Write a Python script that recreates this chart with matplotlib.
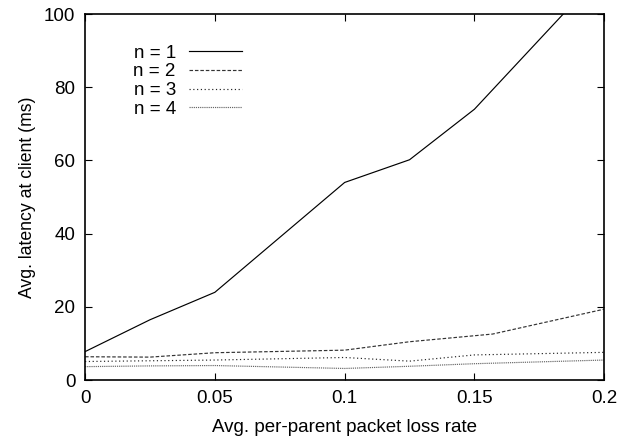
import matplotlib
matplotlib.use("Agg")
import matplotlib.pyplot as plt

plt.rcParams['font.family'] = ['Liberation Sans', 'DejaVu Sans']

# avg. per-parent packet loss rate
loss = [0, 0.025, 0.05, 0.1, 0.125, 0.15, 0.2]
loss_n2 = [0, 0.025, 0.05, 0.1, 0.125, 0.157, 0.2]

lat_n1 = [7.8, 16.5, 24.0, 54.0, 60.2, 74.0, 112.0]
lat_n2 = [6.4, 6.3, 7.5, 8.2, 10.5, 12.6, 19.4]
lat_n3 = [5.1, 5.3, 5.5, 6.2, 5.2, 6.9, 7.6]
lat_n4 = [3.7, 3.9, 4.0, 3.2, 3.8, 4.5, 5.5]

labels = ["n = 1", "n = 2", "n = 3", "n = 4"]
xticks = [0, 0.05, 0.1, 0.15, 0.2]
xticklabels = ["0", "0.05", "0.1", "0.15", "0.2"]

fs = 13.5

fig = plt.figure(figsize=(6.21, 4.38), dpi=100)
ax = fig.add_axes([0.137, 0.132, 0.836, 0.836])

ax.plot(loss, lat_n1, color="black", lw=0.85, label=labels[0])
ax.plot(loss_n2, lat_n2, color="#333333", lw=0.85, dashes=(3, 1.6), label=labels[1])
ax.plot(loss, lat_n3, color="#222222", lw=0.85, dashes=(1, 2.2), label=labels[2])
ax.plot(loss, lat_n4, color="#666666", lw=0.85, dashes=(1, 0.8), label=labels[3])

ax.set_xlim(0, 0.2)
ax.set_ylim(0, 100)
ax.set_xticks(xticks)
ax.set_xticklabels(xticklabels)
ax.set_yticks([0, 20, 40, 60, 80, 100])
ax.tick_params(direction="in", top=True, right=True, length=5, width=0.8,
               labelsize=fs, pad=7)
for s in ax.spines.values():
    s.set_linewidth(1.2)

ax.set_xlabel("Avg. per-parent packet loss rate", fontsize=fs, labelpad=9)
ax.set_ylabel("Avg. latency at client (ms)", fontsize=12.7, labelpad=6)

ax.legend(loc="upper right", bbox_to_anchor=(0.332, 0.958), frameon=False,
          markerfirst=False, fontsize=fs, handlelength=2.85,
          labelspacing=0.09, handletextpad=0.7, borderpad=0.3)

fig.savefig("out.png", dpi=100)
